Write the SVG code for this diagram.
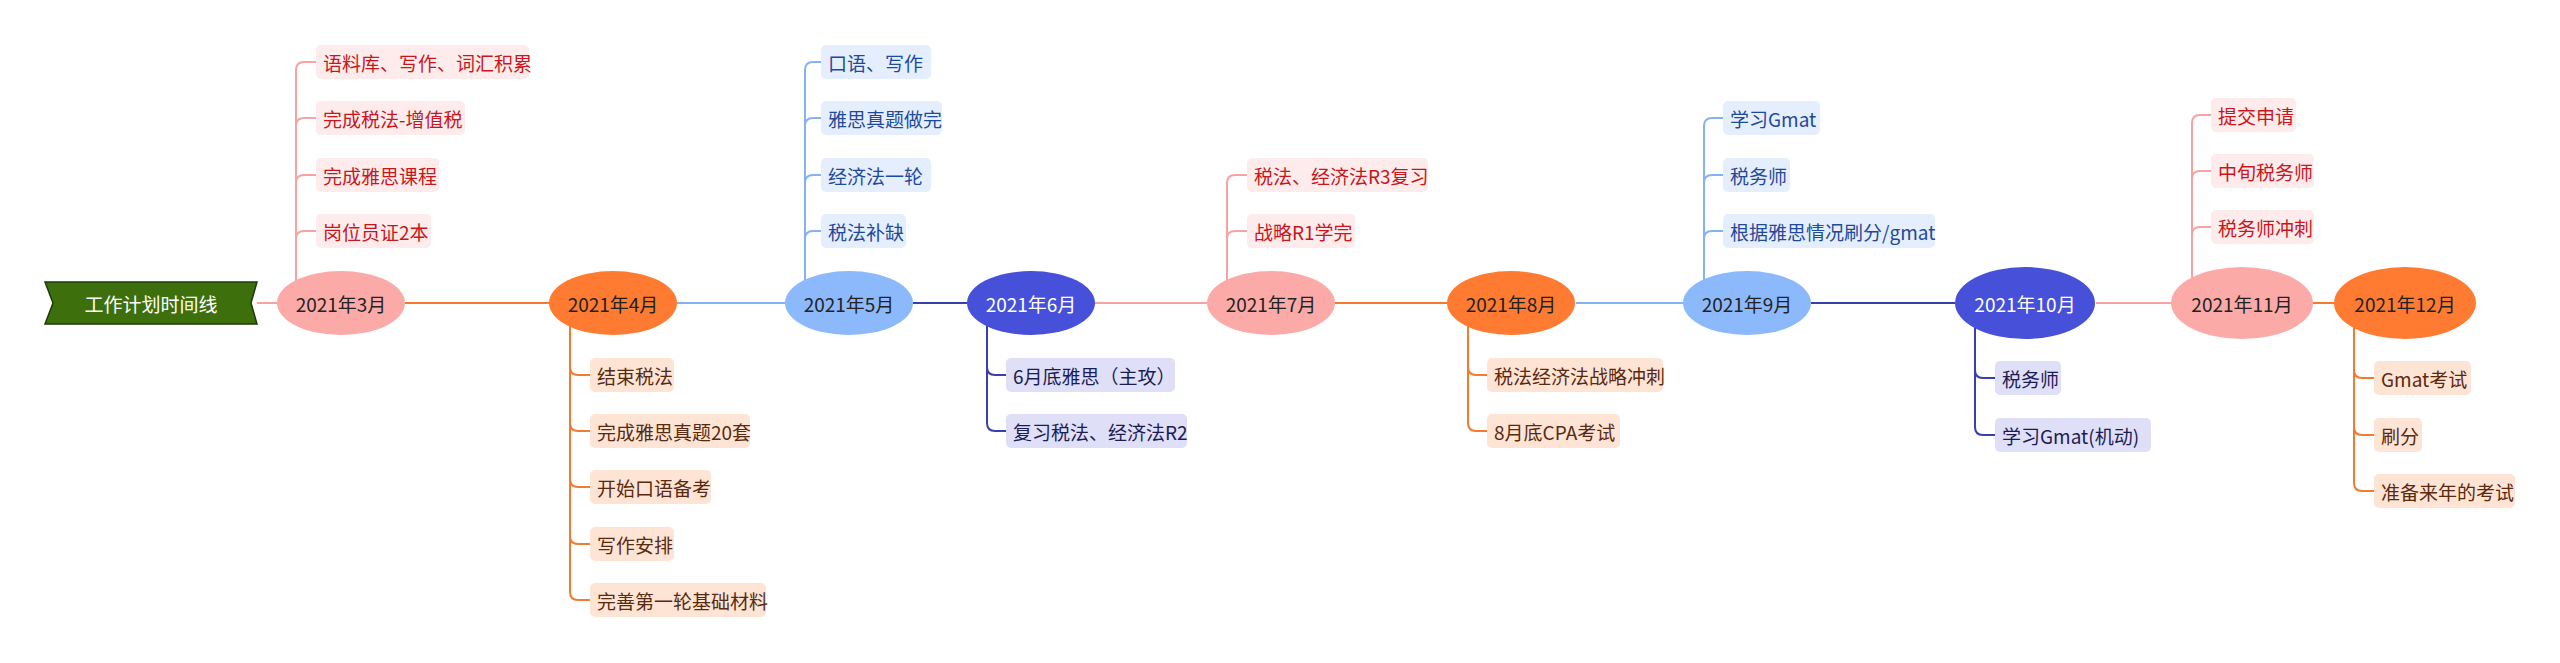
<svg xmlns="http://www.w3.org/2000/svg" width="2560" height="663" viewBox="0 0 2560 663">
<style>
text{font-family:"Noto Sans CJK SC","Liberation Sans",sans-serif;dominant-baseline:central}
.m{font-size:19px;text-anchor:middle}
.c{font-size:19px}
.ln{fill:none;stroke-width:2}
.pk{stroke:#f5a3a3}.or{stroke:#f47a30}.lb{stroke:#86b2f5}.db{stroke:#3a3fb0}
.bpk{fill:#fdeceb}.bor{fill:#fde4d4}.blb{fill:#e5eefd}.bdb{fill:#dfdff8}
.tpk{fill:#c8161d}.tor{fill:#5a2a10}.tlb{fill:#1f4a9a}.tdb{fill:#1c1c55}
</style>
<g id="connectors">
<path class="ln pk" d="M257,303H277"/>
<path class="ln or" d="M405,303H550"/>
<path class="ln lb" d="M677,303H785"/>
<path class="ln db" d="M913,303H967"/>
<path class="ln pk" d="M1095,303H1207"/>
<path class="ln or" d="M1335,303H1447"/>
<path class="ln lb" d="M1576,303H1684"/>
<path class="ln db" d="M1811,303H1955"/>
<path class="ln pk" d="M2096,303H2172"/>
<path class="ln or" d="M2313,303H2335"/>
<!-- Mar -->
<path class="ln pk" d="M296,290V70Q296,62 304,62H316M296,126Q296,118 304,118H316M296,183Q296,175 304,175H316M296,239Q296,231 304,231H316"/>
<!-- Apr -->
<path class="ln or" d="M570,316V592Q570,600 578,600H590M570,367Q570,375 578,375H590M570,423Q570,431 578,431H590M570,479Q570,487 578,487H590M570,536Q570,544 578,544H590"/>
<!-- May -->
<path class="ln lb" d="M805,290V70Q805,62 813,62H821M805,126Q805,118 813,118H821M805,183Q805,175 813,175H821M805,239Q805,231 813,231H821"/>
<!-- Jun -->
<path class="ln db" d="M987,316V423Q987,431 995,431H1006M987,367Q987,375 995,375H1006"/>
<!-- Jul -->
<path class="ln pk" d="M1227,290V183Q1227,175 1235,175H1247M1227,239Q1227,231 1235,231H1247"/>
<!-- Aug -->
<path class="ln or" d="M1468,316V423Q1468,431 1476,431H1487M1468,367Q1468,375 1476,375H1487"/>
<!-- Sep -->
<path class="ln lb" d="M1704,290V126Q1704,118 1712,118H1723M1704,183Q1704,175 1712,175H1723M1704,239Q1704,231 1712,231H1723"/>
<!-- Oct -->
<path class="ln db" d="M1975,318V427Q1975,435 1983,435H1995M1975,370Q1975,378 1983,378H1995"/>
<!-- Nov -->
<path class="ln pk" d="M2192,288V123Q2192,115 2200,115H2211M2192,179Q2192,171 2200,171H2211M2192,235Q2192,227 2200,227H2211"/>
<!-- Dec -->
<path class="ln or" d="M2354,318V483Q2354,491 2362,491H2374M2354,370Q2354,378 2362,378H2374M2354,427Q2354,435 2362,435H2374"/>
</g>
<g id="root">
<path d="M45,282H257L251,303L257,324H45L53,303Z" fill="#3d700c" stroke="#1d3a06" stroke-width="1.5"/>
<text class="m" x="151" y="303" fill="#fff">工作计划时间线</text>
</g>
<g id="m3"><ellipse cx="341" cy="303" rx="64" ry="32" fill="#fcaaa8"/><text class="m" x="341" y="303" fill="#222">2021年3月</text></g>
<g id="m4"><ellipse cx="613" cy="303" rx="64" ry="32" fill="#fe7b31"/><text class="m" x="613" y="303" fill="#222">2021年4月</text></g>
<g id="m5"><ellipse cx="849" cy="303" rx="64" ry="32" fill="#8cb9fc"/><text class="m" x="849" y="303" fill="#222">2021年5月</text></g>
<g id="m6"><ellipse cx="1031" cy="303" rx="64" ry="32" fill="#4650d8"/><text class="m" x="1031" y="303" fill="#fff">2021年6月</text></g>
<g id="m7"><ellipse cx="1271" cy="303" rx="64" ry="32" fill="#fcaaa8"/><text class="m" x="1271" y="303" fill="#222">2021年7月</text></g>
<g id="m8"><ellipse cx="1511" cy="303" rx="64" ry="32" fill="#fe7b31"/><text class="m" x="1511" y="303" fill="#222">2021年8月</text></g>
<g id="m9"><ellipse cx="1747" cy="303" rx="64" ry="32" fill="#8cb9fc"/><text class="m" x="1747" y="303" fill="#222">2021年9月</text></g>
<g id="m10"><ellipse cx="2025" cy="303" rx="70" ry="36" fill="#4650d8"/><text class="m" x="2025" y="303" fill="#fff">2021年10月</text></g>
<g id="m11"><ellipse cx="2242" cy="303" rx="71" ry="36" fill="#fcaaa8"/><text class="m" x="2242" y="303" fill="#222">2021年11月</text></g>
<g id="m12"><ellipse cx="2405" cy="303" rx="71" ry="36" fill="#fe7b31"/><text class="m" x="2405" y="303" fill="#222">2021年12月</text></g>
<g id="c3">
<rect class="bpk" x="316" y="45" width="213" height="34" rx="5"/><text class="c tpk" x="323" y="62">语料库、写作、词汇积累</text>
<rect class="bpk" x="316" y="101" width="149" height="34" rx="5"/><text class="c tpk" x="323" y="118">完成税法-增值税</text>
<rect class="bpk" x="316" y="158" width="123" height="34" rx="5"/><text class="c tpk" x="323" y="175">完成雅思课程</text>
<rect class="bpk" x="316" y="214" width="115" height="34" rx="5"/><text class="c tpk" x="323" y="231">岗位员证2本</text>
</g>
<g id="c4">
<rect class="bor" x="590" y="358" width="84" height="34" rx="5"/><text class="c tor" x="597" y="375">结束税法</text>
<rect class="bor" x="590" y="414" width="160" height="34" rx="5"/><text class="c tor" x="597" y="431">完成雅思真题20套</text>
<rect class="bor" x="590" y="470" width="121" height="34" rx="5"/><text class="c tor" x="597" y="487">开始口语备考</text>
<rect class="bor" x="590" y="527" width="84" height="34" rx="5"/><text class="c tor" x="597" y="544">写作安排</text>
<rect class="bor" x="590" y="583" width="176" height="34" rx="5"/><text class="c tor" x="597" y="600">完善第一轮基础材料</text>
</g>
<g id="c5">
<rect class="blb" x="821" y="45" width="110" height="34" rx="5"/><text class="c tlb" x="828" y="62">口语、写作</text>
<rect class="blb" x="821" y="101" width="121" height="34" rx="5"/><text class="c tlb" x="828" y="118">雅思真题做完</text>
<rect class="blb" x="821" y="158" width="110" height="34" rx="5"/><text class="c tlb" x="828" y="175">经济法一轮</text>
<rect class="blb" x="821" y="214" width="85" height="34" rx="5"/><text class="c tlb" x="828" y="231">税法补缺</text>
</g>
<g id="c6">
<rect class="bdb" x="1006" y="358" width="169" height="34" rx="5"/><text class="c tdb" x="1013" y="375">6月底雅思（主攻）</text>
<rect class="bdb" x="1006" y="414" width="181" height="34" rx="5"/><text class="c tdb" x="1013" y="431">复习税法、经济法R2</text>
</g>
<g id="c7">
<rect class="bpk" x="1247" y="158" width="181" height="34" rx="5"/><text class="c tpk" x="1254" y="175">税法、经济法R3复习</text>
<rect class="bpk" x="1247" y="214" width="108" height="34" rx="5"/><text class="c tpk" x="1254" y="231">战略R1学完</text>
</g>
<g id="c8">
<rect class="bor" x="1487" y="358" width="176" height="34" rx="5"/><text class="c tor" x="1494" y="375">税法经济法战略冲刺</text>
<rect class="bor" x="1487" y="414" width="133" height="34" rx="5"/><text class="c tor" x="1494" y="431">8月底CPA考试</text>
</g>
<g id="c9">
<rect class="blb" x="1723" y="101" width="97" height="34" rx="5"/><text class="c tlb" x="1730" y="118">学习Gmat</text>
<rect class="blb" x="1723" y="158" width="67" height="34" rx="5"/><text class="c tlb" x="1730" y="175">税务师</text>
<rect class="blb" x="1723" y="214" width="212" height="34" rx="5"/><text class="c tlb" x="1730" y="231">根据雅思情况刷分/gmat</text>
</g>
<g id="c10">
<rect class="bdb" x="1995" y="361" width="66" height="34" rx="5"/><text class="c tdb" x="2002" y="378">税务师</text>
<rect class="bdb" x="1995" y="418" width="156" height="34" rx="5"/><text class="c tdb" x="2002" y="435">学习Gmat(机动)</text>
</g>
<g id="c11">
<rect class="bpk" x="2211" y="98" width="85" height="34" rx="5"/><text class="c tpk" x="2218" y="115">提交申请</text>
<rect class="bpk" x="2211" y="154" width="103" height="34" rx="5"/><text class="c tpk" x="2218" y="171">中旬税务师</text>
<rect class="bpk" x="2211" y="210" width="103" height="34" rx="5"/><text class="c tpk" x="2218" y="227">税务师冲刺</text>
</g>
<g id="c12">
<rect class="bor" x="2374" y="361" width="97" height="34" rx="5"/><text class="c tor" x="2381" y="378">Gmat考试</text>
<rect class="bor" x="2374" y="418" width="48" height="34" rx="5"/><text class="c tor" x="2381" y="435">刷分</text>
<rect class="bor" x="2374" y="474" width="141" height="34" rx="5"/><text class="c tor" x="2381" y="491">准备来年的考试</text>
</g>
</svg>
